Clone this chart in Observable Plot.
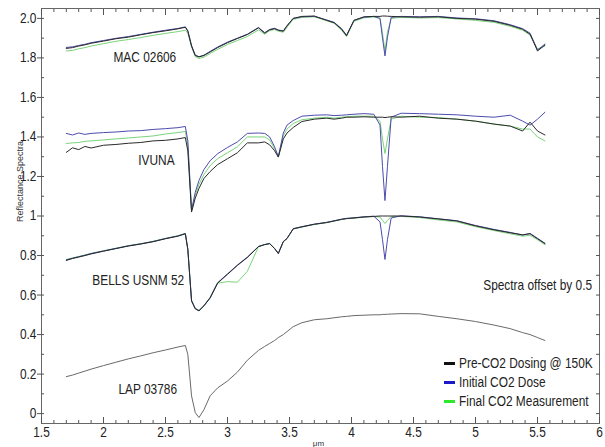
<!DOCTYPE html>
<html><head><meta charset="utf-8">
<script src="https://cdn.jsdelivr.net/npm/d3@7"></script>
<script src="https://cdn.jsdelivr.net/npm/@observablehq/plot@0.6"></script>
<style>
body{margin:0;background:#fff;}
#wrap{position:relative;width:605px;height:447px;font-family:"Liberation Sans",Arial,sans-serif;}
#legend{position:absolute;left:444px;top:354px;font-size:14px;color:#222;line-height:19px;}
.item{display:flex;align-items:center;white-space:nowrap;}
.sw{width:11px;height:3px;margin-right:4px;flex:none;}
.lt{display:inline-block;transform:scaleX(0.85);transform-origin:0 50%;}
</style></head><body><div id="wrap"><div id="legend"></div></div>
<script>
// wavelength grid (µm)
const wl = [1.70,1.75,1.80,1.85,1.90,2.00,2.10,2.20,2.30,2.40,2.50,2.60,2.66,2.68,2.71,2.74,2.77,2.81,2.86,2.92,3.00,3.08,3.16,3.25,3.30,3.34,3.38,3.41,3.45,3.48,3.53,3.60,3.70,3.80,3.86,3.92,3.96,4.02,4.10,4.18,4.23,4.25,4.27,4.29,4.32,4.40,4.55,4.70,4.85,5.00,5.15,5.28,5.38,5.44,5.50,5.56];

const conditions = ["Pre-CO2 Dosing @ 150K","Initial CO2 Dose","Final CO2 Measurement"];
const lineColors = ["#2a2a2a","#4c4cae","#7ad47a"];
const legendColors = ["#111111","#1a1ac8","#2ee82e"];

// MAC 02606
const macPre = [1.848,1.852,1.860,1.866,1.874,1.885,1.897,1.905,1.917,1.928,1.937,1.947,1.955,1.935,1.860,1.812,1.805,1.812,1.830,1.852,1.877,1.898,1.918,1.952,1.925,1.942,1.948,1.940,1.935,1.962,2.000,2.010,2.012,1.990,1.978,1.945,1.912,1.990,2.008,2.010,2.010,2.012,2.012,2.011,2.010,2.008,2.006,2.008,2.000,1.996,1.985,1.965,1.945,1.920,1.835,1.865];
const macInitial = [1.853,1.856,1.863,1.869,1.877,1.888,1.899,1.908,1.919,1.930,1.940,1.949,1.957,1.938,1.863,1.814,1.806,1.814,1.833,1.855,1.880,1.900,1.920,1.954,1.928,1.944,1.950,1.941,1.937,1.963,2.000,2.008,2.010,1.992,1.980,1.948,1.915,1.990,2.006,2.010,2.000,1.900,1.810,1.905,2.005,2.010,2.008,2.010,2.002,1.998,1.988,1.968,1.948,1.925,1.840,1.870];
const macFinal = [1.835,1.838,1.846,1.852,1.860,1.872,1.884,1.893,1.903,1.914,1.924,1.933,1.940,1.925,1.855,1.806,1.797,1.804,1.822,1.843,1.868,1.888,1.908,1.942,1.920,1.938,1.944,1.935,1.930,1.955,1.995,2.005,2.008,1.988,1.975,1.940,1.908,1.985,2.003,2.007,2.000,1.925,1.835,1.930,2.000,2.005,2.002,2.004,1.997,1.990,1.980,1.960,1.940,1.915,1.845,1.860];

// IVUNA
const ivunaPre = [1.322,1.345,1.336,1.352,1.344,1.358,1.362,1.368,1.372,1.380,1.383,1.390,1.397,1.330,1.020,1.090,1.140,1.190,1.225,1.260,1.290,1.320,1.370,1.370,1.375,1.360,1.330,1.298,1.390,1.420,1.448,1.478,1.490,1.495,1.490,1.495,1.500,1.500,1.502,1.500,1.500,1.500,1.498,1.500,1.502,1.500,1.505,1.495,1.490,1.480,1.465,1.455,1.430,1.475,1.430,1.410];
const ivunaInitial = [1.418,1.410,1.420,1.413,1.418,1.422,1.425,1.430,1.432,1.438,1.442,1.447,1.453,1.380,1.030,1.120,1.180,1.235,1.280,1.315,1.347,1.375,1.418,1.420,1.418,1.400,1.350,1.300,1.420,1.460,1.483,1.505,1.510,1.512,1.508,1.510,1.512,1.515,1.518,1.515,1.460,1.250,1.078,1.250,1.500,1.520,1.518,1.515,1.512,1.505,1.500,1.510,1.480,1.460,1.490,1.525];
const ivunaFinal = [1.367,1.370,1.372,1.378,1.380,1.385,1.390,1.395,1.400,1.405,1.415,1.422,1.428,1.360,1.025,1.105,1.160,1.210,1.255,1.290,1.320,1.350,1.400,1.400,1.400,1.385,1.340,1.300,1.405,1.440,1.468,1.487,1.495,1.500,1.495,1.500,1.502,1.505,1.505,1.505,1.480,1.390,1.316,1.390,1.490,1.505,1.500,1.498,1.490,1.480,1.465,1.455,1.440,1.440,1.400,1.380];

// BELLS USNM 52
const bellsPre = [0.775,0.785,0.792,0.800,0.808,0.822,0.835,0.848,0.858,0.870,0.885,0.898,0.910,0.830,0.570,0.530,0.520,0.545,0.585,0.660,0.705,0.750,0.790,0.845,0.855,0.860,0.835,0.810,0.870,0.886,0.935,0.945,0.958,0.967,0.975,0.983,0.987,0.990,0.995,0.998,1.000,1.000,1.000,1.000,1.000,1.000,0.995,0.985,0.975,0.950,0.930,0.915,0.905,0.910,0.885,0.860];
const bellsInitial = [0.778,0.786,0.794,0.801,0.810,0.823,0.836,0.849,0.859,0.871,0.886,0.899,0.911,0.832,0.572,0.532,0.521,0.546,0.587,0.662,0.707,0.752,0.792,0.846,0.856,0.861,0.836,0.811,0.871,0.887,0.936,0.946,0.959,0.968,0.976,0.984,0.988,0.991,0.996,0.999,0.970,0.880,0.780,0.880,0.990,1.001,0.996,0.986,0.976,0.952,0.932,0.917,0.903,0.912,0.887,0.862];
const bellsFinal = [0.780,0.788,0.795,0.803,0.811,0.824,0.837,0.850,0.860,0.872,0.887,0.900,0.912,0.834,0.575,0.533,0.523,0.548,0.588,0.660,0.668,0.665,0.720,0.845,0.855,0.860,0.836,0.812,0.870,0.886,0.934,0.944,0.957,0.966,0.974,0.982,0.986,0.989,0.994,0.997,0.995,0.978,0.962,0.978,0.998,0.998,0.992,0.980,0.970,0.946,0.926,0.910,0.898,0.902,0.880,0.855];

// LAP 03786
const lapPre = [0.187,0.195,0.205,0.215,0.225,0.243,0.260,0.277,0.292,0.308,0.322,0.337,0.345,0.300,0.090,0.005,-0.020,0.020,0.090,0.130,0.165,0.210,0.270,0.320,0.340,0.355,0.370,0.385,0.400,0.415,0.440,0.460,0.475,0.480,0.485,0.490,0.492,0.496,0.498,0.500,0.500,0.502,0.502,0.503,0.504,0.506,0.505,0.492,0.480,0.466,0.448,0.430,0.410,0.400,0.385,0.370];

const sampleNames = ["MAC 02606","IVUNA","BELLS USNM 52","LAP 03786"];
const sampleLabelX = [2.08, 2.28, 1.91, 2.12];
const sampleLabelY = [1.80, 1.28, 0.673, 0.12];
const offsetNote = "Spectra offset by 0.5";

const xMajor = [1.5,2,2.5,3,3.5,4,4.5,5,5.5,6];
const xLabels = ["1.5","2","2.5","3","3.5","4","4.5","5","5.5","6"];
const xMinor = [1.5,1.6,1.7,1.8,1.9,2.0,2.1,2.2,2.3,2.4,2.5,2.6,2.7,2.8,2.9,3.0,3.1,3.2,3.3,3.4,3.5,3.6,3.7,3.8,3.9,4.0,4.1,4.2,4.3,4.4,4.5,4.6,4.7,4.8,4.9,5.0,5.1,5.2,5.3,5.4,5.5,5.6,5.7,5.8,5.9,6.0];
const yMajor = [0,0.2,0.4,0.6,0.8,1,1.2,1.4,1.6,1.8,2];
const yLabels = ["0","0.2","0.4","0.6","0.8","1","1.2","1.4","1.6","1.8","2.0"];
const yMinor = [0,0.1,0.2,0.3,0.4,0.5,0.6,0.7,0.8,0.9,1.0,1.1,1.2,1.3,1.4,1.5,1.6,1.7,1.8,1.9,2.0];

// build table (draw order: final, initial, pre)
const series = [
  {s:"MAC 02606", c:conditions[2], v:macFinal},
  {s:"MAC 02606", c:conditions[1], v:macInitial},
  {s:"MAC 02606", c:conditions[0], v:macPre},
  {s:"IVUNA", c:conditions[2], v:ivunaFinal},
  {s:"IVUNA", c:conditions[1], v:ivunaInitial},
  {s:"IVUNA", c:conditions[0], v:ivunaPre},
  {s:"BELLS", c:conditions[2], v:bellsFinal},
  {s:"BELLS", c:conditions[1], v:bellsInitial},
  {s:"BELLS", c:conditions[0], v:bellsPre}
];
const rows = series.flatMap(d => d.v.map((y, i) => ({x: wl[i], y, key: d.s + "|" + d.c, cond: d.c})));
const lapRows = lapPre.map((y, i) => ({x: wl[i], y}));
const labels = sampleNames.map((n, i) => ({name: n, x: sampleLabelX[i], y: sampleLabelY[i]}));

const font = '"Liberation Sans",Arial,sans-serif';
const tickColor = "#555";
const blank = () => "";

const chart = Plot.plot({
  width: 605, height: 447,
  marginLeft: 41, marginRight: 6, marginTop: 8, marginBottom: 24,
  x: {domain: [1.5, 6], axis: null},
  y: {domain: [-0.05, 2.05], axis: null},
  color: {domain: conditions, range: lineColors},
  style: {fontFamily: font, fontSize: "14px", color: "#222", background: "white", overflow: "visible"},
  marks: [
    Plot.line(lapRows, {x: "x", y: "y", stroke: "#6a6a6a", strokeWidth: 1}),
    Plot.line(rows, {x: "x", y: "y", z: "key", stroke: "cond", strokeWidth: 1}),
    Plot.frame({stroke: "#666"}),
    // bottom
    Plot.axisX(xMinor, {anchor: "bottom", label: null, tickSize: -3, tickFormat: blank, stroke: tickColor}),
    Plot.axisX(xMajor, {anchor: "bottom", label: null, tickSize: -6, tickFormat: blank, stroke: tickColor}),
    Plot.axisX(xMajor, {anchor: "bottom", label: null, tickSize: 0, tickPadding: 4, tickFormat: d => xLabels[xMajor.indexOf(d)], fill: "#222", fontSize: 14, className: "sq"}),
    // top
    Plot.axisX(xMinor, {anchor: "top", label: null, tickSize: -3, tickFormat: blank, stroke: tickColor}),
    Plot.axisX(xMajor, {anchor: "top", label: null, tickSize: -6, tickFormat: blank, stroke: tickColor}),
    // left
    Plot.axisY(yMinor, {anchor: "left", label: null, tickSize: -3, tickFormat: blank, stroke: tickColor}),
    Plot.axisY(yMajor, {anchor: "left", label: null, tickSize: 4, tickFormat: blank, stroke: tickColor}),
    Plot.axisY(yMajor, {anchor: "left", label: null, tickSize: 0, tickPadding: 5, tickFormat: d => yLabels[yMajor.indexOf(d)], fill: "#222", fontSize: 14, className: "sq"}),
    // right
    Plot.axisY(yMinor, {anchor: "right", label: null, tickSize: -4, tickFormat: blank, stroke: tickColor}),
    // labels
    Plot.text(labels, {x: "x", y: "y", text: "name", textAnchor: "start", fontSize: 14, fill: "#222", className: "sq"}),
    Plot.text([offsetNote], {x: 5.94, y: 0.648, textAnchor: "end", fontSize: 14, fill: "#222", className: "sq"}),
    Plot.text(["Reflectance Spectra"], {frameAnchor: "left", dx: -21, dy: 6, rotate: -90, fontSize: 9, fill: "#333"}),
    Plot.text(["μm"], {frameAnchor: "bottom", dx: -2, dy: 20, lineAnchor: "middle", fontSize: 8, fill: "#333"})
  ]
});

// condense text (narrow, Calibri-like look) about each text's anchor
chart.querySelectorAll("g.sq text, .sq text").forEach(el => {
  const t = el.getAttribute("transform");
  if (t) {
    el.setAttribute("transform", t + " scale(0.85,1)");
  } else {
    const x = +(el.getAttribute("x") || 0), y = +(el.getAttribute("y") || 0);
    el.removeAttribute("x"); el.removeAttribute("y");
    el.setAttribute("transform", `translate(${x},${y}) scale(0.85,1)`);
  }
});

const wrap = document.getElementById("wrap");
wrap.insertBefore(chart, wrap.firstChild);

const legend = document.getElementById("legend");
conditions.forEach((c, i) => {
  const it = document.createElement("div");
  it.className = "item";
  const sw = document.createElement("span");
  sw.className = "sw";
  sw.style.background = legendColors[i];
  const t = document.createElement("span");
  t.className = "lt";
  t.textContent = c;
  it.appendChild(sw); it.appendChild(t);
  legend.appendChild(it);
});
</script></body></html>
